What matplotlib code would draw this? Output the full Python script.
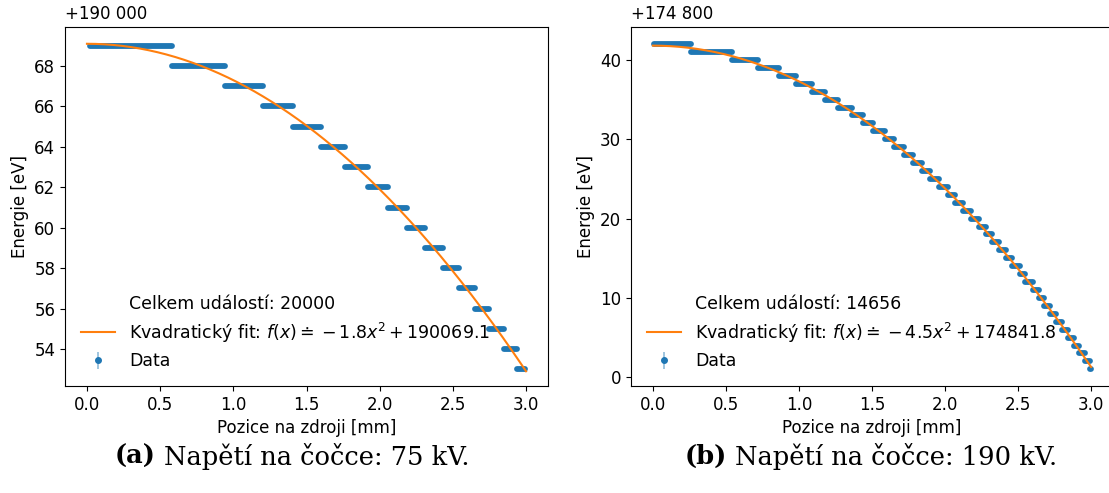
import matplotlib
matplotlib.use("Agg")
import matplotlib.pyplot as plt
import numpy as np
from matplotlib.lines import Line2D

# --- Data ---
# (a) 75 kV: energy levels relative to offset, and x edges of each level
OFFSET_A = 190000
LEVELS_A = [69, 68, 67, 66, 65, 64, 63, 62, 61, 60, 59, 58, 57, 56, 55, 54, 53]
EDGES_A = [0.02, 0.58, 0.94, 1.20, 1.41, 1.60, 1.76, 1.92, 2.06, 2.19, 2.31,
           2.43, 2.54, 2.65, 2.75, 2.85, 2.94, 2.99]
FIT_A = (-1.8, 69.1)          # a, c  ->  f(x) = a x^2 + c (relative to offset)
COUNT_A = 20000

# (b) 190 kV
OFFSET_B = 174800
LEVELS_B = list(range(42, 0, -1))
EDGES_B = [0.01, 0.26, 0.54, 0.72, 0.86, 0.98, 1.09, 1.18, 1.27, 1.36, 1.44,
           1.51, 1.59, 1.65, 1.72, 1.78, 1.84, 1.90, 1.96, 2.02, 2.07, 2.12,
           2.18, 2.23, 2.28, 2.32, 2.37, 2.42, 2.46, 2.51, 2.55, 2.60, 2.64,
           2.68, 2.72, 2.76, 2.80, 2.84, 2.88, 2.92, 2.96, 2.99, 3.00]
FIT_B = (-4.5, 41.8)
COUNT_B = 14656

X_TICKS = [0.0, 0.5, 1.0, 1.5, 2.0, 2.5, 3.0]
Y_TICKS_A = [54, 56, 58, 60, 62, 64, 66, 68]
Y_TICKS_B = [0, 10, 20, 30, 40]

CAPTION_A = ("(a)", "Napětí na čočce: 75 kV.")
CAPTION_B = ("(b)", "Napětí na čočce: 190 kV.")

W, H = 1109, 493
plt.rcParams["font.size"] = 12


def fmt_offset(v):
    return "+" + f"{v:,}".replace(",", " ")


def draw_panel(ax, levels, edges, fit, count, offset, yticks, ylim):
    a, c = fit
    xs = np.linspace(0, 3, 300)
    # data steps: dense markers merge into solid rounded bars
    for lvl, x0, x1 in zip(levels, edges[:-1], edges[1:]):
        ax.plot([x0, x1], [lvl, lvl], color="#1f77b4", lw=4.2,
                solid_capstyle="round", zorder=2)
    fit_line, = ax.plot(xs, a * xs ** 2 + c, color="C1", lw=1.5, zorder=3)
    data_h = ax.errorbar([np.nan], [np.nan], yerr=[1], fmt="o", ms=4,
                         color="C0", ecolor=(0.12, 0.47, 0.71, 0.5), elinewidth=1.2)
    empty = Line2D([], [], color="none")

    sign = "-" if a < 0 else "+"
    fit_lbl = (r"Kvadratický fit: $f(x)\doteq %s%.1fx^2+%.1f$"
               % (sign, abs(a), offset + c))
    ax.legend([empty, fit_line, data_h],
              [f"Celkem událostí: {count}", fit_lbl, "Data"],
              loc="lower left", frameon=False, fontsize=12.5,
              labelspacing=0.45)

    ax.set_xlim(-0.15, 3.15)
    ax.set_ylim(*ylim)
    ax.set_xticks(X_TICKS)
    ax.set_xticklabels([f"{t:.1f}" for t in X_TICKS])
    ax.set_yticks(yticks)
    ax.set_xlabel("Pozice na zdroji [mm]")
    ax.set_ylabel("Energie [eV]")
    ax.text(0, 1.01, fmt_offset(offset), transform=ax.transAxes,
            ha="left", va="bottom", fontsize=12)


fig = plt.figure(figsize=(W / 100, H / 100), dpi=100)
ax1 = fig.add_axes([65 / W, (H - 386) / H, 483 / W, 359 / H])
ax2 = fig.add_axes([631 / W, (H - 386) / H, 482 / W, 359 / H])

draw_panel(ax1, LEVELS_A, EDGES_A, FIT_A, COUNT_A, OFFSET_A, Y_TICKS_A, (52.17, 69.93))
draw_panel(ax2, LEVELS_B, EDGES_B, FIT_B, COUNT_B, OFFSET_B, Y_TICKS_B, (-1.1, 44.15))

# captions
for (tag, text), x in ((CAPTION_A, 156), (CAPTION_B, 727)):
    fig.text(x / W, 1 - 456 / H, tag, ha="right", va="center",
             fontsize=18.5, fontweight="bold", family="DejaVu Serif")
    fig.text((x + 8) / W, 1 - 456 / H, text, ha="left", va="center",
             fontsize=18.5, family="DejaVu Serif")

fig.savefig("out.png", dpi=100)
